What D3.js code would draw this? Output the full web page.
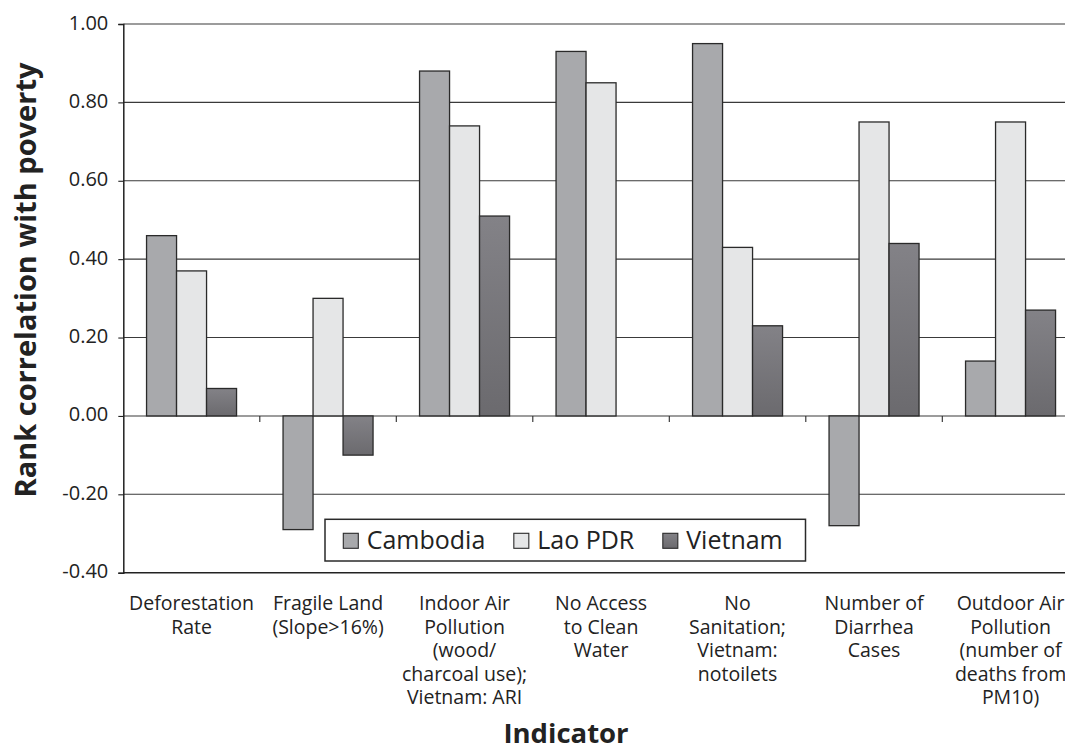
<!DOCTYPE html>
<html>
<head>
<meta charset="utf-8">
<script src="https://cdn.jsdelivr.net/npm/d3@7"></script>
<style>
  html, body { margin: 0; padding: 0; background: #fff; }
  svg { display: block; font-family: "Open Sans", "Noto Sans", sans-serif; }
</style>
</head>
<body>
<svg id="chart" width="1065" height="752"></svg>
<script>
// ---- data ----
const categories = [
  ["Deforestation", "Rate"],
  ["Fragile Land", "(Slope>16%)"],
  ["Indoor Air", "Pollution", "(wood/", "charcoal use);", "Vietnam: ARI"],
  ["No Access", "to Clean", "Water"],
  ["No", "Sanitation;", "Vietnam:", "notoilets"],
  ["Number of", "Diarrhea", "Cases"],
  ["Outdoor Air", "Pollution", "(number of", "deaths from", "PM10)"]
];
const seriesNames = ["Cambodia", "Lao PDR", "Vietnam"];
const cambodia = [0.46, -0.29, 0.88, 0.93, 0.95, -0.28, 0.14];
const laoPDR   = [0.37, 0.30, 0.74, 0.85, 0.43, 0.75, 0.75];
const vietnam  = [0.07, -0.10, 0.51, null, 0.23, 0.44, 0.27];
const yTicks = [-0.4, -0.2, 0, 0.2, 0.4, 0.6, 0.8, 1.0];
const yTitle = "Rank correlation with poverty";
const xTitle = "Indicator";

// ---- layout ----
(function () {
const svg = d3.select("#chart");
const mLeft = 123.3, mRight = 1078.8, mTop = 24, mBottom = 572.7;
const fills = { "Cambodia": "#a8a9ac", "Lao PDR": "#e5e6e7", "Vietnam": "url(#vietGrad)" };

const defs = svg.append("defs");
const g = defs.append("linearGradient").attr("id", "vietGrad")
  .attr("x1", 0).attr("y1", 0).attr("x2", 0).attr("y2", 1);
g.append("stop").attr("offset", "0%").attr("stop-color", "#838287");
g.append("stop").attr("offset", "100%").attr("stop-color", "#6b6a6e");

const idx = d3.range(categories.length);
const x0 = d3.scaleBand().domain(idx).range([mLeft, mRight]).padding(0);
const bw = x0.bandwidth();
const groupW = 90;
const x1 = d3.scaleBand().domain(seriesNames).range([(bw - groupW) / 2, (bw + groupW) / 2]).padding(0);
const y = d3.scaleLinear().domain([-0.4, 1.0]).range([mBottom, mTop]);

// gridlines
svg.append("g").selectAll("line").data(yTicks.filter(v => v > -0.4)).join("line")
  .attr("x1", mLeft).attr("x2", mRight)
  .attr("y1", d => y(d)).attr("y2", d => y(d))
  .attr("stroke", "#3a3a3a").attr("stroke-width", 1.1);

// bars
const series = [
  { name: "Cambodia", values: cambodia },
  { name: "Lao PDR", values: laoPDR },
  { name: "Vietnam", values: vietnam }
];
const barsG = svg.append("g");
series.forEach(s => {
  barsG.append("g").selectAll("rect")
    .data(s.values.map((v, i) => ({ i, v })).filter(d => d.v !== null))
    .join("rect")
    .attr("x", d => x0(d.i) + x1(s.name))
    .attr("width", x1.bandwidth())
    .attr("y", d => y(Math.max(0, d.v)))
    .attr("height", d => Math.abs(y(d.v) - y(0)))
    .attr("fill", fills[s.name])
    .attr("stroke", "#2a2a2a").attr("stroke-width", 1.3);
});

// category ticks on the zero line
svg.append("g").selectAll("line").data(idx.slice(1)).join("line")
  .attr("x1", d => x0(d)).attr("x2", d => x0(d))
  .attr("y1", y(0)).attr("y2", y(0) + 6)
  .attr("stroke", "#2a2a2a").attr("stroke-width", 1.1);

// y axis
const fmt = d => d3.format(".2f")(d).replace("\u2212", "-");
const yAxis = d3.axisLeft(y).tickValues(yTicks).tickFormat(fmt).tickSize(5).tickPadding(10);
const ya = svg.append("g").attr("transform", `translate(${mLeft},0)`).call(yAxis);
ya.select(".domain").attr("stroke", "#222").attr("stroke-width", 1.5);
ya.selectAll(".tick line").attr("stroke", "#222").attr("stroke-width", 1.1);
ya.selectAll(".tick text").attr("font-size", 20).attr("fill", "#222")
  .attr("font-family", "'Open Sans', sans-serif").attr("dy", "0.25em");

// bottom axis line
svg.append("line").attr("x1", mLeft).attr("x2", mRight)
  .attr("y1", y(-0.4)).attr("y2", y(-0.4))
  .attr("stroke", "#222").attr("stroke-width", 1.5);

// category labels
const labG = svg.append("g").attr("font-size", 19.5).attr("fill", "#222").attr("text-anchor", "middle");
categories.forEach((lines, i) => {
  lines.forEach((ln, k) => {
    labG.append("text").attr("x", x0(i) + bw / 2).attr("y", 610 + k * 23.5).text(ln);
  });
});

// axis titles
svg.append("text").attr("x", 566).attr("y", 743)
  .attr("text-anchor", "middle").attr("font-size", 27.5).attr("font-weight", "bold")
  .attr("fill", "#222").text(xTitle);
svg.append("text").attr("transform", "translate(36,280) rotate(-90)")
  .attr("text-anchor", "middle").attr("font-size", 29).attr("font-weight", "bold")
  .attr("fill", "#222").text(yTitle);

// legend
const lg = svg.append("g");
lg.append("rect").attr("x", 325).attr("y", 519.3).attr("width", 480.5).attr("height", 41.7)
  .attr("fill", "#fff").attr("stroke", "#2a2a2a").attr("stroke-width", 1.5);
let lx = 343.3;
seriesNames.forEach((name) => {
  lg.append("rect").attr("x", lx).attr("y", 533.3).attr("width", 15).attr("height", 15)
    .attr("fill", fills[name]).attr("stroke", "#2a2a2a").attr("stroke-width", 1.1);
  const t = lg.append("text").attr("x", lx + 23.4).attr("y", 549.3)
    .attr("font-size", 25).attr("fill", "#222").text(name);
  lx = lx + 23.4 + t.node().getComputedTextLength() + 28.5;
});
})();
</script>
</body>
</html>
